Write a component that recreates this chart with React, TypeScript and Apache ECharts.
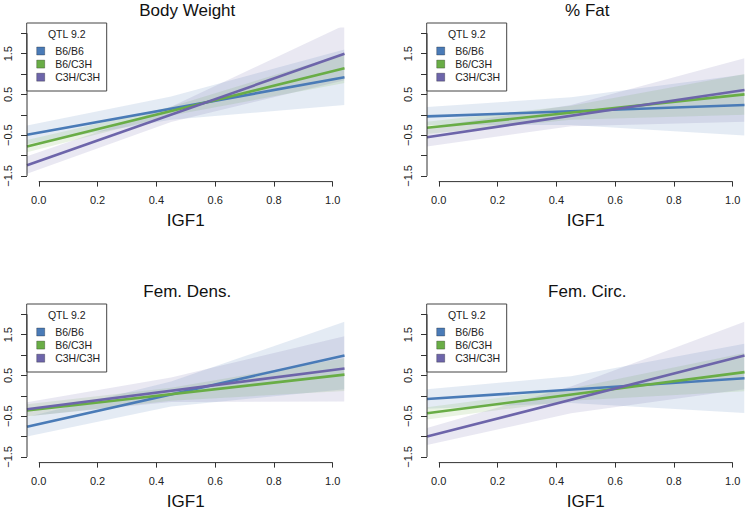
import React, { useEffect, useRef } from "react";
import * as echarts from "echarts";

// ---- axes ----
const xMin = -0.04;
const xMax = 1.04;
const yMin = -1.64;
const yMax = 2.14;
const xTicks = [0, 0.2, 0.4, 0.6, 0.8, 1.0];
const yTicks = [-1.5, -1, -0.5, 0, 0.5, 1, 1.5, 2];
const yTickLabels = [-1.5, -0.5, 0.5, 1.5];

// ---- categories ----
const panelTitles = ["Body Weight", "% Fat", "Fem. Dens.", "Fem. Circ."];
const genotypes = ["B6/B6", "B6/C3H", "C3H/C3H"];
const legendTitle = "QTL 9.2";
const xName = "IGF1";

// ---- fitted lines (value at lineX) per genotype ----
const lineX = [-0.04, 1.04];
const bwFit = [[-0.49, 0.92], [-0.78, 1.14], [-1.24, 1.5]];
const pfFit = [[-0.04, 0.24], [-0.32, 0.5], [-0.55, 0.61]];
const fdFit = [[-0.76, 0.99], [-0.36, 0.52], [-0.33, 0.67]];
const fcFit = [[-0.08, 0.43], [-0.43, 0.58], [-1.0, 0.99]];

// ---- confidence bands (lower / upper at bandX) per genotype ----
const bandX = [-0.04, 0.45, 1.04];
const bwLo = [[-0.72, -0.12, 0.24], [-0.92, -0.02, 0.78], [-1.45, -0.18, 0.85]];
const bwHi = [[-0.26, 0.45, 1.6], [-0.62, 0.2, 1.5], [-1.02, 0.2, 2.2]];
const pfLo = [[-0.25, -0.25, -0.51], [-0.47, -0.12, 0.0], [-0.78, -0.28, -0.17]];
const pfHi = [[0.19, 0.43, 0.99], [-0.17, 0.22, 1.0], [-0.32, 0.24, 1.39]];
const fdLo = [[-1.0, -0.26, 0.16], [-0.51, -0.12, 0.12], [-0.5, -0.15, -0.14]];
const fdHi = [[-0.52, 0.35, 1.82], [-0.21, 0.2, 0.92], [-0.16, 0.45, 1.46]];
const fcLo = [[-0.32, -0.18, -0.42], [-0.58, -0.12, 0.11], [-1.21, -0.43, 0.16]];
const fcHi = [[0.16, 0.48, 1.28], [-0.28, 0.18, 1.05], [-0.79, 0.23, 1.82]];

const fits = [bwFit, pfFit, fdFit, fcFit];
const los = [bwLo, pfLo, fdLo, fcLo];
const his = [bwHi, pfHi, fdHi, fcHi];

// ---- style ----
const colors = ["#4a7bb7", "#69ad46", "#6d65aa"];
const bandColors = [
  "rgba(74,123,183,0.15)",
  "rgba(105,173,70,0.15)",
  "rgba(109,101,170,0.15)",
];
const FONT = "'Liberation Sans', Arial, Helvetica, sans-serif";
const gridPos = [
  { left: 27, top: 27.6 },
  { left: 427, top: 27.6 },
  { left: 27, top: 308.6 },
  { left: 427, top: 308.6 },
];
const GW = 317.5;
const GH = 154;

function fmt(v: number) {
  const s = Math.abs(v).toFixed(1);
  return v < 0 ? "\u2212" + s : s;
}

export default function App() {
  const ref = useRef<HTMLDivElement>(null);
  useEffect(() => {
    if (!ref.current) return;
    const chart = echarts.init(ref.current, null, { renderer: "svg" });

    const grid = gridPos.map((g) => ({
      left: g.left,
      top: g.top,
      width: GW,
      height: GH,
      containLabel: false,
    }));

    const xAxis = gridPos.map((_, p) => ({
      type: "value",
      gridIndex: p,
      position: "bottom",
      min: xMin,
      max: xMax,
      axisLine: { show: false, onZero: false },
      splitLine: { show: false },
      axisTick: {
        show: true,
        inside: false,
        customValues: xTicks,
        length: 5,
        lineStyle: { color: "#333", width: 1 },
      },
      axisLabel: {
        customValues: xTicks,
        formatter: (v: number) => v.toFixed(1),
        fontSize: 11,
        color: "#222",
        margin: 13,
        fontFamily: FONT,
      },
      name: xName,
      nameLocation: "middle",
      nameGap: 30,
      nameTextStyle: { fontSize: 17, color: "#111", fontFamily: FONT },
    }));

    const yAxis = gridPos.map((_, p) => ({
      type: "value",
      gridIndex: p,
      position: "left",
      min: yMin,
      max: yMax,
      axisLine: { show: false, onZero: false },
      splitLine: { show: false },
      axisTick: {
        show: true,
        inside: false,
        customValues: yTicks,
        length: 6,
        lineStyle: { color: "#333", width: 1 },
      },
      axisLabel: {
        customValues: yTickLabels,
        formatter: (v: number) => fmt(v),
        rotate: 90,
        fontSize: 11,
        color: "#222",
        margin: 14,
        fontFamily: FONT,
      },
    }));

    const series: any[] = [];
    for (let p = 0; p < 4; p++) {
      // bands
      for (let g = 0; g < genotypes.length; g++) {
        const lo = los[p][g];
        const hi = his[p][g];
        series.push({
          type: "custom",
          name: genotypes[g] + " band",
          xAxisIndex: p,
          yAxisIndex: p,
          silent: true,
          clip: true,
          data: bandX.map((x, i) => [x, lo[i], hi[i]]),
          encode: { x: 0, y: [1, 2] },
          renderItem: (params: any, api: any) => {
            if (params.dataIndexInside !== 0) return null;
            const n = params.dataInsideLength;
            const upper: number[][] = [];
            const lower: number[][] = [];
            for (let i = 0; i < n; i++) {
              upper.push(api.coord([api.value(0, i), api.value(2, i)]));
              lower.push(api.coord([api.value(0, i), api.value(1, i)]));
            }
            const cs = params.coordSys;
            return {
              type: "polygon",
              shape: { points: upper.concat(lower.reverse()) },
              style: { fill: bandColors[g] },
              clipPath: {
                type: "rect",
                shape: { x: cs.x, y: cs.y, width: cs.width, height: cs.height },
              },
            };
          },
          z: 1,
        });
      }
      // fitted lines
      for (let g = 0; g < genotypes.length; g++) {
        series.push({
          type: "line",
          name: genotypes[g],
          xAxisIndex: p,
          yAxisIndex: p,
          showSymbol: false,
          symbol: "none",
          silent: true,
          data: lineX.map((x, i) => [x, fits[p][g][i]]),
          lineStyle: { color: colors[g], width: 2.6 },
          itemStyle: { color: colors[g] },
          z: 3,
        });
      }
      // axis lines spanning first to last tick (R style)
      series.push({
        type: "line",
        xAxisIndex: p,
        yAxisIndex: p,
        symbol: "none",
        silent: true,
        clip: false,
        data: [
          [xMin, yTicks[0]],
          [xMin, yTicks[yTicks.length - 1]],
        ],
        lineStyle: { color: "#333", width: 1 },
        z: 4,
      });
      series.push({
        type: "line",
        xAxisIndex: p,
        yAxisIndex: p,
        symbol: "none",
        silent: true,
        clip: false,
        data: [
          [xTicks[0], yMin],
          [xTicks[xTicks.length - 1], yMin],
        ],
        lineStyle: { color: "#333", width: 1 },
        z: 4,
      });
    }

    const graphic: any[] = [];
    gridPos.forEach((g, p) => {
      // panel title
      graphic.push({
        type: "text",
        x: g.left + GW / 2 + 1.5,
        y: g.top - 17.6,
        style: {
          text: panelTitles[p],
          font: `17px ${FONT}`,
          fill: "#111",
          textAlign: "center",
          textVerticalAlign: "middle",
        },
        z: 10,
      });
      // legend
      const children: any[] = [
        {
          type: "rect",
          shape: { x: 0, y: 0, width: 80, height: 68 },
          style: { fill: "#fff", stroke: "#444", lineWidth: 1 },
        },
        {
          type: "text",
          x: 40,
          y: 11.3,
          style: {
            text: legendTitle,
            font: `10.5px ${FONT}`,
            fill: "#222",
            textAlign: "center",
            textVerticalAlign: "middle",
          },
        },
      ];
      genotypes.forEach((name, k) => {
        const cy = 28 + 13.1 * k;
        children.push({
          type: "rect",
          shape: { x: 10, y: cy - 4, width: 8, height: 8 },
          style: { fill: colors[k], stroke: "rgba(0,0,0,0.45)", lineWidth: 0.6 },
        });
        children.push({
          type: "text",
          x: 28.5,
          y: cy,
          style: {
            text: name,
            font: `10.5px ${FONT}`,
            fill: "#222",
            textAlign: "left",
            textVerticalAlign: "middle",
          },
        });
      });
      graphic.push({
        type: "group",
        x: g.left - 0.3,
        y: g.top - 4.6,
        children,
        z: 10,
      });
    });

    chart.setOption({
      animation: false,
      backgroundColor: "#ffffff",
      textStyle: { fontFamily: FONT },
      grid,
      xAxis,
      yAxis,
      series,
      graphic,
    } as any);

    return () => chart.dispose();
  }, []);

  return (
    <div
      ref={ref}
      style={{ position: "absolute", left: 0, top: 0, width: 748, height: 512 }}
    />
  );
}
